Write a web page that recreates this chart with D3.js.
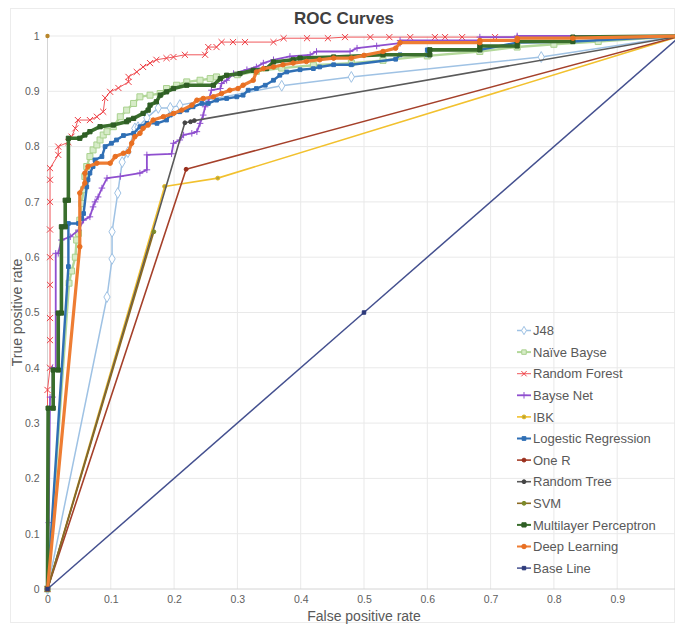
<!DOCTYPE html>
<html>
<head>
<meta charset="utf-8">
<script src="https://cdn.jsdelivr.net/npm/d3@7"></script>
<style>
  html, body { margin: 0; padding: 0; background: #ffffff; }
  svg { display: block; font-family: "Liberation Sans", Arial, sans-serif; }
</style>
</head>
<body>
<svg id="chart" width="675" height="628"></svg>
<script>
// ---- tick values ----
const xTicks = [0, 0.1, 0.2, 0.3, 0.4, 0.5, 0.6, 0.7, 0.8, 0.9];
const yTicks = [0, 0.1, 0.2, 0.3, 0.4, 0.5, 0.6, 0.7, 0.8, 0.9, 1];

// ---- ROC points [false positive rate, true positive rate] ----
const j48 = [[0,0],[0.094,0.528],[0.102,0.597],[0.102,0.646],[0.111,0.716],[0.118,0.772],[0.127,0.79],[0.138,0.833],[0.143,0.835],[0.157,0.852],[0.175,0.87],[0.194,0.87],[0.209,0.875],[0.37,0.91],[0.48,0.926],[0.78,0.962],[1,1]];

const naiveBayes = [[0,0],[0.034,0.553],[0.038,0.575],[0.044,0.6],[0.046,0.631],[0.049,0.643],[0.051,0.667],[0.054,0.697],[0.057,0.722],[0.059,0.746],[0.062,0.764],[0.067,0.782],[0.072,0.794],[0.078,0.803],[0.083,0.812],[0.088,0.821],[0.094,0.827],[0.104,0.836],[0.115,0.854],[0.125,0.866],[0.136,0.878],[0.146,0.89],[0.162,0.893],[0.178,0.896],[0.188,0.905],[0.204,0.911],[0.22,0.917],[0.241,0.92],[0.257,0.923],[0.267,0.926],[0.3,0.93],[0.33,0.936],[0.37,0.942],[0.42,0.947],[0.48,0.951],[0.53,0.956],[0.6,0.964],[0.683,0.972],[0.742,0.98],[0.8,0.985],[0.87,0.99],[1,1]];

const randomForest = [[0,0],[0,0.36],[0.004,0.40],[0.004,0.45],[0.004,0.49],[0.004,0.55],[0.004,0.60],[0.004,0.65],[0.004,0.70],[0.004,0.74],[0.004,0.761],[0.017,0.785],[0.017,0.80],[0.033,0.808],[0.038,0.818],[0.044,0.833],[0.048,0.848],[0.067,0.848],[0.078,0.854],[0.088,0.863],[0.091,0.888],[0.099,0.899],[0.112,0.906],[0.128,0.917],[0.128,0.926],[0.141,0.935],[0.151,0.944],[0.162,0.951],[0.172,0.957],[0.188,0.96],[0.199,0.962],[0.217,0.966],[0.249,0.966],[0.254,0.98],[0.267,0.98],[0.275,0.989],[0.293,0.989],[0.312,0.989],[0.357,0.989],[0.373,0.996],[0.41,0.996],[0.443,0.996],[0.47,0.998],[0.51,0.998],[0.54,0.998],[0.573,0.998],[0.612,0.998],[0.628,0.998],[0.655,0.998],[0.707,0.998],[1,1]];

const bayesNet = [[0,0],[0.002,0.12],[0.004,0.347],[0.008,0.347],[0.008,0.40],[0.013,0.40],[0.013,0.607],[0.017,0.607],[0.022,0.631],[0.036,0.637],[0.049,0.649],[0.057,0.667],[0.067,0.673],[0.072,0.691],[0.075,0.70],[0.08,0.709],[0.086,0.725],[0.094,0.743],[0.115,0.746],[0.146,0.752],[0.157,0.758],[0.157,0.785],[0.196,0.787],[0.199,0.806],[0.209,0.812],[0.215,0.821],[0.228,0.824],[0.236,0.827],[0.241,0.842],[0.246,0.857],[0.249,0.872],[0.254,0.881],[0.259,0.902],[0.273,0.905],[0.275,0.914],[0.283,0.92],[0.294,0.932],[0.315,0.939],[0.33,0.944],[0.341,0.951],[0.357,0.957],[0.383,0.963],[0.415,0.966],[0.425,0.972],[0.478,0.972],[0.489,0.978],[0.52,0.982],[0.557,0.987],[0.557,0.992],[0.683,0.992],[0.683,0.998],[0.742,0.998],[0.742,1],[1,1]];

const ibk = [[0,0],[0.185,0.728],[0.269,0.743],[1,1]];

const logisticRegression = [[0,0],[0.033,0.583],[0.033,0.661],[0.049,0.661],[0.054,0.67],[0.057,0.679],[0.062,0.727],[0.064,0.74],[0.067,0.752],[0.072,0.764],[0.075,0.776],[0.086,0.782],[0.091,0.80],[0.101,0.806],[0.109,0.812],[0.12,0.82],[0.136,0.824],[0.146,0.836],[0.157,0.842],[0.173,0.842],[0.188,0.848],[0.194,0.857],[0.209,0.863],[0.22,0.866],[0.23,0.872],[0.244,0.878],[0.254,0.878],[0.267,0.884],[0.283,0.887],[0.299,0.89],[0.309,0.893],[0.317,0.902],[0.33,0.905],[0.344,0.911],[0.357,0.92],[0.367,0.929],[0.378,0.935],[0.399,0.939],[0.42,0.941],[0.43,0.944],[0.452,0.948],[0.48,0.948],[0.55,0.958],[0.557,0.966],[0.6,0.966],[0.6,0.975],[0.683,0.975],[0.742,0.988],[0.83,0.99],[1,1]];

const oneR = [[0,0],[0.219,0.759],[1,1]];

const randomTree = [[0,0],[0.217,0.843],[0.226,0.845],[0.232,0.847],[1,1]];

const svm = [[0,0],[0.168,0.646]];

const multilayerPerceptron = [[0,0],[0.001,0.327],[0.009,0.327],[0.009,0.396],[0.017,0.396],[0.017,0.499],[0.022,0.499],[0.022,0.655],[0.028,0.655],[0.028,0.703],[0.033,0.703],[0.033,0.815],[0.051,0.815],[0.059,0.821],[0.067,0.827],[0.083,0.836],[0.104,0.839],[0.125,0.845],[0.128,0.848],[0.136,0.851],[0.151,0.86],[0.159,0.866],[0.162,0.875],[0.172,0.881],[0.178,0.893],[0.188,0.899],[0.199,0.905],[0.22,0.911],[0.262,0.911],[0.273,0.923],[0.283,0.929],[0.304,0.932],[0.325,0.938],[0.346,0.941],[0.357,0.953],[0.388,0.957],[0.399,0.96],[0.452,0.962],[0.53,0.966],[0.604,0.966],[0.604,0.975],[0.683,0.975],[0.683,0.982],[0.742,0.982],[0.742,0.99],[0.83,0.99],[0.83,0.998],[1,1]];

const deepLearning = [[0,0],[0.051,0.619],[0.051,0.716],[0.059,0.734],[0.059,0.752],[0.064,0.764],[0.078,0.77],[0.099,0.77],[0.107,0.782],[0.12,0.788],[0.128,0.791],[0.133,0.806],[0.138,0.818],[0.146,0.824],[0.151,0.833],[0.159,0.839],[0.167,0.848],[0.183,0.854],[0.199,0.86],[0.212,0.866],[0.228,0.875],[0.236,0.884],[0.246,0.887],[0.262,0.89],[0.275,0.896],[0.288,0.902],[0.301,0.905],[0.309,0.911],[0.325,0.92],[0.33,0.935],[0.341,0.941],[0.357,0.944],[0.372,0.948],[0.388,0.951],[0.409,0.954],[0.43,0.957],[0.452,0.96],[0.48,0.96],[0.5,0.965],[0.53,0.972],[0.55,0.978],[0.557,0.988],[0.683,0.988],[0.683,0.992],[0.742,0.992],[0.742,0.996],[0.83,0.996],[1,1]];

const baseLine = [[0,0],[0.5,0.5],[1,1]];

// the ideal classifier corner
const perfectPoint = [[0,1]];

const seriesNames = ["J48", "Naïve Bayse", "Random Forest", "Bayse Net", "IBK", "Logestic Regression", "One R", "Random Tree", "SVM", "Multilayer Perceptron", "Deep Learning", "Base Line"];
const seriesData = [j48, naiveBayes, randomForest, bayesNet, ibk, logisticRegression, oneR, randomTree, svm, multilayerPerceptron, deepLearning, baseLine];

// ---- appearance per series ----
const styles = [
  { color: "#9fc2e4", width: 1.5, symbol: d3.symbolDiamond, size: 34, fill: "#ffffff", mstroke: "#9fc2e4" },
  { color: "#b3d89a", width: 2.4, symbol: d3.symbolSquare, size: 36, fill: "#d7ecc8", mstroke: "#a9d18e" },
  { color: "#f0585c", width: 1, symbol: d3.symbolX, size: 26, fill: "none", mstroke: "#ee3f45" },
  { color: "#8f4fcf", width: 1.8, symbol: d3.symbolPlus, size: 16, fill: "#8f4fcf", mstroke: "#8f4fcf" },
  { color: "#f2c12e", width: 1.6, symbol: d3.symbolCircle, size: 12, fill: "#b6a43a", mstroke: "#e4b81e" },
  { color: "#2f6fb5", width: 2.4, symbol: d3.symbolSquare, size: 14, fill: "#2f6fb5", mstroke: "#2f6fb5" },
  { color: "#a5402a", width: 1.6, symbol: d3.symbolCircle, size: 12, fill: "#9a2e1c", mstroke: "#9a2e1c" },
  { color: "#5a5a5a", width: 1.6, symbol: d3.symbolCircle, size: 12, fill: "#454545", mstroke: "#454545" },
  { color: "#8c6a22", width: 1.6, symbol: d3.symbolCircle, size: 12, fill: "#7c8a2a", mstroke: "#7c8a2a" },
  { color: "#3a6f2d", width: 3.6, symbol: d3.symbolSquare, size: 18, fill: "#2f5e25", mstroke: "#2f5e25" },
  { color: "#ee7d33", width: 3.2, symbol: d3.symbolCircle, size: 16, fill: "#e86f22", mstroke: "#e86f22" },
  { color: "#44508f", width: 1.5, symbol: d3.symbolSquare, size: 12, fill: "#2d3a7a", mstroke: "#2d3a7a" }
];

const svg = d3.select("#chart");
const W = 675, H = 628;

// chart frame
svg.append("rect")
  .attr("x", 10.5).attr("y", 8.5).attr("width", W - 11).attr("height", H - 14)
  .attr("fill", "#ffffff").attr("stroke", "#ececec");

const x = d3.scaleLinear().domain([0, 1]).range([47.5, 680.5]);
const y = d3.scaleLinear().domain([0, 1]).range([589, 36]);

// gridlines
const grid = svg.append("g");
grid.selectAll("line.v").data(xTicks.concat([1])).join("line")
  .attr("x1", d => x(d)).attr("x2", d => x(d))
  .attr("y1", y(0)).attr("y2", y(1))
  .attr("stroke", d => d === 0 ? "#d4d4d4" : "#e9e9e9").attr("stroke-width", 1);
grid.selectAll("line.h").data(yTicks).join("line")
  .attr("x1", x(0)).attr("x2", x(1))
  .attr("y1", d => y(d)).attr("y2", d => y(d))
  .attr("stroke", d => d === 0 ? "#d4d4d4" : "#e9e9e9").attr("stroke-width", 1);

// axes
const fmt = d3.format("~g");
const xAxis = svg.append("g")
  .attr("transform", `translate(0,${y(0)})`)
  .call(d3.axisBottom(x).tickValues(xTicks).tickFormat(fmt).tickSize(0).tickPadding(7));
const yAxis = svg.append("g")
  .attr("transform", `translate(${x(0)},0)`)
  .call(d3.axisLeft(y).tickValues(yTicks).tickFormat(fmt).tickSize(0).tickPadding(8));
[xAxis, yAxis].forEach(a => {
  a.select(".domain").remove();
  a.selectAll("text").attr("fill", "#606060").style("font-size", "10.5px")
    .style("font-family", "'Liberation Sans', Arial, sans-serif");
});

// series
const line = d3.line().x(d => x(d[0])).y(d => y(d[1]));
const plot = svg.append("g");
seriesData.forEach((pts, i) => {
  const s = styles[i];
  const g = plot.append("g");
  g.append("path").datum(pts)
    .attr("d", line).attr("fill", "none")
    .attr("stroke", s.color).attr("stroke-width", s.width)
    .attr("stroke-linejoin", "round");
  g.selectAll("path.m").data(pts).join("path")
    .attr("transform", d => `translate(${x(d[0])},${y(d[1])})`)
    .attr("d", d3.symbol().type(s.symbol).size(s.size))
    .attr("fill", s.fill).attr("stroke", s.mstroke).attr("stroke-width", 1);
});

// corner marker
svg.selectAll("circle.perfect").data(perfectPoint).join("circle")
  .attr("cx", d => x(d[0])).attr("cy", d => y(d[1])).attr("r", 2.2)
  .attr("fill", "#b8862b");

// title and axis titles
svg.append("text").attr("x", 344).attr("y", 24)
  .attr("text-anchor", "middle").attr("font-weight", "bold")
  .attr("font-size", 17).attr("fill", "#404040").text("ROC Curves");
svg.append("text").attr("x", 364).attr("y", 621)
  .attr("text-anchor", "middle").attr("font-size", 14).attr("fill", "#595959")
  .text("False positive rate");
svg.append("text")
  .attr("transform", `translate(22,${y(0.5)}) rotate(-90)`)
  .attr("text-anchor", "middle").attr("font-size", 14).attr("fill", "#595959")
  .text("True positive rate");

// legend
const legend = svg.append("g");
seriesNames.forEach((name, i) => {
  const s = styles[i];
  const ly = 330.5 + i * 21.6;
  const row = legend.append("g").attr("transform", `translate(0,${ly})`);
  row.append("line").attr("x1", 517).attr("x2", 531).attr("y1", 0).attr("y2", 0)
    .attr("stroke", s.color).attr("stroke-width", Math.min(s.width, 2));
  row.append("path").attr("transform", "translate(524,0)")
    .attr("d", d3.symbol().type(s.symbol).size(Math.min(s.size, 20)))
    .attr("fill", s.fill).attr("stroke", s.mstroke).attr("stroke-width", 1);
  row.append("text").attr("x", 533).attr("y", 0).attr("dy", "0.36em")
    .attr("font-size", 13).attr("fill", "#595959").text(name);
});
</script>
</body>
</html>
